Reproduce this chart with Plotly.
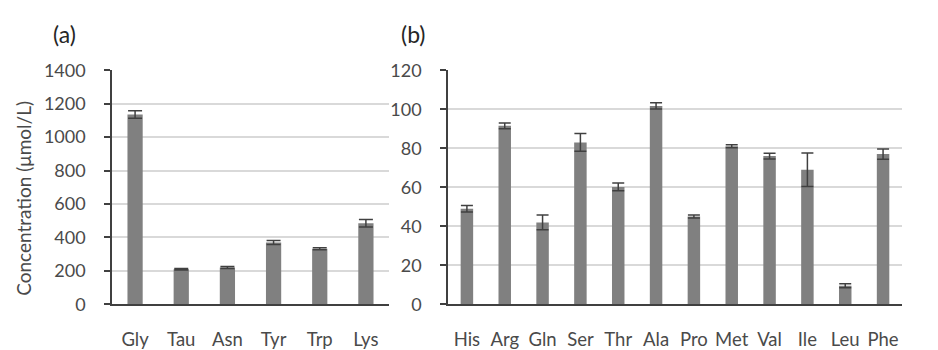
import plotly.graph_objects as go

cats_a = ["Gly", "Tau", "Asn", "Tyr", "Trp", "Lys"]
vals_a = [1135, 210, 220, 370, 332, 485]
err_a = [22, 5, 6, 12, 6, 22]

cats_b = ["His", "Arg", "Gln", "Ser", "Thr", "Ala", "Pro", "Met", "Val", "Ile", "Leu", "Phe"]
vals_b = [49, 91.5, 42, 83, 60.2, 101.7, 45, 81, 76, 69, 9.5, 77]
err_b = [1.7, 1.5, 3.8, 4.5, 2, 1.6, 0.8, 0.8, 1.5, 8.6, 1, 2.6]

ticks_a = [0, 200, 400, 600, 800, 1000, 1200, 1400]
ticks_b = [0, 20, 40, 60, 80, 100, 120]

BAR = "#808080"
AX = "#404040"
TXT = "#4a4a4a"
GRID = "#d9d9d9"
FONT = "Lato"

fig = go.Figure()
fig.add_trace(go.Bar(x=cats_a, y=vals_a, width=0.33, marker=dict(color=BAR, line=dict(width=0)),
                     error_y=dict(type="data", array=err_a, color=AX, thickness=1.5, width=7),
                     xaxis="x", yaxis="y", showlegend=False))
fig.add_trace(go.Bar(x=cats_b, y=vals_b, width=0.33, marker=dict(color=BAR, line=dict(width=0)),
                     error_y=dict(type="data", array=err_b, color=AX, thickness=1.5, width=6),
                     xaxis="x2", yaxis="y2", showlegend=False))

ydom = [0.106, 0.822]
common_x = dict(showline=True, linecolor=AX, linewidth=1.5, ticks="", showgrid=False,
                tickfont=dict(family=FONT, size=18.5, color=TXT), ticklabelstandoff=18)
common_y = dict(showline=True, linecolor=AX, linewidth=1.5, ticks="outside", ticklen=6,
                tickcolor=AX, tickwidth=1.5, showgrid=True, gridcolor=GRID, gridwidth=1.5,
                zeroline=False, tickfont=dict(family=FONT, size=18, color=TXT), ticklabelstandoff=15)

fig.update_layout(
    width=938, height=350,
    margin=dict(l=0, r=0, t=0, b=0),
    paper_bgcolor="white", plot_bgcolor="white",
    font=dict(family=FONT, color=TXT),
    xaxis=dict(domain=[0.1194, 0.4147], anchor="y", **common_x),
    yaxis=dict(domain=ydom, anchor="x", range=[0, 1400], tickvals=ticks_a, **common_y),
    xaxis2=dict(domain=[0.4776, 0.9616], anchor="y2", **common_x),
    yaxis2=dict(domain=ydom, anchor="x2", range=[0, 120], tickvals=ticks_b, **common_y),
    annotations=[
        dict(text="(a)", x=51 / 938, y=1 - 24 / 350, xref="paper", yref="paper",
             xanchor="left", yanchor="middle", showarrow=False,
             font=dict(family=FONT, size=23, color="#262626")),
        dict(text="(b)", x=399 / 938, y=1 - 24 / 350, xref="paper", yref="paper",
             xanchor="left", yanchor="middle", showarrow=False,
             font=dict(family=FONT, size=23, color="#262626")),
        dict(text="Concentration (μmol/L)", x=24 / 938, y=1 - 200 / 350, xref="paper", yref="paper",
             xanchor="center", yanchor="middle", textangle=-90, showarrow=False,
             font=dict(family=FONT, size=19, color=TXT)),
    ],
)

fig.write_html("out.html")
